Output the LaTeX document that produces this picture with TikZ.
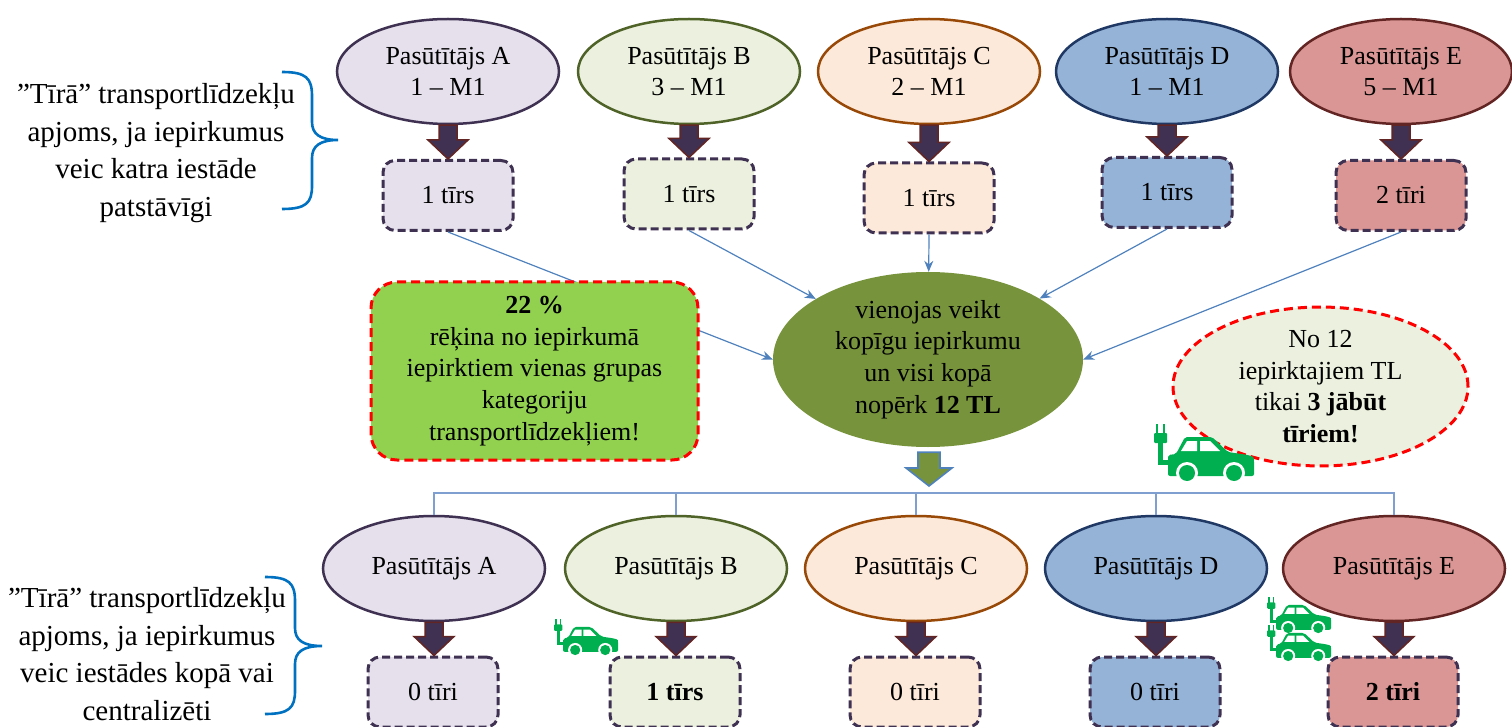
\documentclass[tikz,border=0pt]{standalone}
\usepackage{fontspec}
\setmainfont{Liberation Serif}
\usetikzlibrary{shapes.geometric,arrows.meta,calc,positioning}
\definecolor{lavA}{HTML}{E5E0EC}
\definecolor{linA}{HTML}{3F3151}
\definecolor{palB}{HTML}{EBF1DE}
\definecolor{linB}{HTML}{4F6228}
\definecolor{peaC}{HTML}{FDE9D9}
\definecolor{linC}{HTML}{984807}
\definecolor{bluD}{HTML}{95B3D7}
\definecolor{linD}{HTML}{1F3864}
\definecolor{rosE}{HTML}{D99694}
\definecolor{linE}{HTML}{632523}
\definecolor{olive}{HTML}{77933C}
\definecolor{lime}{HTML}{92D050}
\definecolor{carg}{HTML}{00B050}
\definecolor{brace}{HTML}{0070C0}
\definecolor{link}{HTML}{4F81BD}
\definecolor{busl}{HTML}{7F9FD0}
\definecolor{arrf}{HTML}{403152}

\tikzset{
  ecar/.pic={
    \fill[carg,rounded corners=2pt] (0,-3) -- (0,18) -- (8,19) -- (17,36) -- (44,36) -- (60,21) -- (80,18) .. controls (86,16) .. (86,8) -- (86,-3) -- cycle;
    \fill[white] (13,22) -- (19,32) -- (29,32) -- (29,22) -- cycle;
    \fill[white] (32,22) -- (32,32) -- (42,32) -- (52,22) -- cycle;
    \fill[white] (19,0) circle (11);
    \fill[carg] (19,0) circle (8);
    \fill[white] (66,0) circle (11);
    \fill[carg] (66,0) circle (8);
    \fill[carg] (-10,8) rectangle (1,13);
    \fill[carg] (-10,8) rectangle (-5,32);
    \fill[carg,rounded corners=1pt] (-14,30) rectangle (-1,40);
    \fill[carg] (-12,39) rectangle (-10,49);
    \fill[carg] (-5,39) rectangle (-3,49);
  }
}

\begin{document}
\begin{tikzpicture}[x=1pt,y=1pt,
  txt/.style={font=\fontsize{26}{31.6}\selectfont,align=center},
  side/.style={font=\fontsize{29}{37.7}\selectfont,align=center},
  buyer/.style={txt,ellipse,minimum width=222pt,minimum height=105pt,inner sep=0pt,line width=2.5pt},
  count/.style={txt,rectangle,rounded corners=12pt,minimum width=130pt,minimum height=70pt,
    draw=linA,line width=3pt,dash pattern=on 8pt off 4pt},
  redline/.style={draw=red,line width=3pt,dash pattern=on 9pt off 5pt},
  fat/.style={fill=arrf,draw=linE,line width=1.5pt,
    to path={let \p1=(\tikztostart.south), \p2=(\tikztotarget.north) in
      (\x1-9,\y1) -- (\x1-9,\y2+19) -- (\x1-20,\y2+19) -- (\x1,\y2)
      -- (\x1+20,\y2+19) -- (\x1+9,\y2+19) -- (\x1+9,\y1) -- cycle}},
  feed/.style={draw=link,line width=1.2pt,-{Stealth[length=11pt,width=9pt]}},
  bus/.style={draw=busl,line width=1.6pt},
  curly/.style={draw=brace,line width=2.6pt}]
\useasboundingbox (0,0) rectangle (1512,-727);

% each buyer on its own
\node[buyer,fill=lavA,draw=linA] (tA) at (448,-71.5) {Pasūtītājs A\\1 – M1};
\node[buyer,fill=palB,draw=linB] (tB) at (689,-71.5) {Pasūtītājs B\\3 – M1};
\node[buyer,fill=peaC,draw=linC] (tC) at (929,-71.5) {Pasūtītājs C\\2 – M1};
\node[buyer,fill=bluD,draw=linD] (tD) at (1167,-71.5) {Pasūtītājs D\\1 – M1};
\node[buyer,fill=rosE,draw=linE] (tE) at (1401,-71.5) {Pasūtītājs E\\5 – M1};

\node[count,fill=lavA] (nA) at (448,-195.5) {1 tīrs};
\node[count,fill=palB] (nB) at (689,-194) {1 tīrs};
\node[count,fill=peaC] (nC) at (929,-198) {1 tīrs};
\node[count,fill=bluD] (nD) at (1167,-192.5) {1 tīrs};
\node[count,fill=rosE] (nE) at (1401,-195.5) {2 tīri};

\draw[fat] (tA) to (nA);
\draw[fat] (tB) to (nB);
\draw[fat] (tC) to (nC);
\draw[fat] (tD) to (nD);
\draw[fat] (tE) to (nE);

\node[side] (why1) at (156,-153) {”Tīrā” transportlīdzekļu\\apjoms, ja iepirkumus\\veic katra iestāde\\patstāvīgi};
\draw[curly] (282,-72) .. controls (306,-72) and (312,-78) .. (312,-96) -- (312,-122)
  .. controls (312,-134) and (320,-140) .. (338,-140)
  .. controls (320,-140) and (312,-146) .. (312,-158) -- (312,-186)
  .. controls (312,-203) and (306,-209) .. (282,-209);

% joint purchase
\node[txt,ellipse,fill=olive,minimum width=310pt,minimum height=175pt,inner sep=0pt] (mid) at (928,-359.5)
  {vienojas veikt\\kopīgu iepirkumu\\un visi kopā\\nopērk \textbf{12 TL}};

\draw[feed] (nA.south) -- (mid.west);
\draw[feed] (nB.south) -- (mid);
\draw[feed] (nC.south) -- (mid);
\draw[feed] (nD.south) -- (mid);
\draw[feed] (nE.south) -- (mid.east);

\node[txt,rectangle,rounded corners=26pt,fill=lime,redline,minimum width=327pt,minimum height=178pt] (rule) at (534.5,-371)
  {\textbf{22 \%}\\rēķina no iepirkumā\\iepirktiem vienas grupas\\kategoriju\\transportlīdzekļiem!};

\node[txt,ellipse,fill=palB,redline,minimum width=295pt,minimum height=129pt,inner sep=0pt] (note) at (1320.5,-386.5)
  {No 12\\iepirktajiem TL\\tikai \textbf{3 jābūt}\\\textbf{tīriem!}};

\pic (bigcar) at (1168,-473) {ecar};

\coordinate (busC) at (929,-486);
\coordinate (bus) at (0,-493);
\draw[fill=olive,draw=link,line width=1.6pt] let \p1=(mid.south), \p2=(busC) in
  (\x1-10,\y1-5) -- (\x1-10,\y2+18) -- (\x1-22,\y2+18) -- (\x1+1,\y2)
  -- (\x1+24,\y2+18) -- (\x1+12,\y2+18) -- (\x1+12,\y1-5) -- cycle;

% together
\node[buyer,fill=lavA,draw=linA] (bA) at (434,-568.5) {Pasūtītājs A};
\node[buyer,fill=palB,draw=linB] (bB) at (676,-568.5) {Pasūtītājs B};
\node[buyer,fill=peaC,draw=linC] (bC) at (916,-568.5) {Pasūtītājs C};
\node[buyer,fill=bluD,draw=linD] (bD) at (1156,-568.5) {Pasūtītājs D};
\node[buyer,fill=rosE,draw=linE] (bE) at (1394,-568.5) {Pasūtītājs E};

\draw[bus] (bA.north) -- (bA.north |- bus) -- (bE.north |- bus) -- (bE.north);
\draw[bus] (bB.north) -- (bB.north |- bus);
\draw[bus] (bC.north) -- (bC.north |- bus);
\draw[bus] (bD.north) -- (bD.north |- bus);

\node[count,fill=lavA] (rA) at (433,-692) {0 tīri};
\node[count,fill=palB] (rB) at (675,-692) {\textbf{1 tīrs}};
\node[count,fill=peaC] (rC) at (915,-692) {0 tīri};
\node[count,fill=bluD] (rD) at (1155,-692) {0 tīri};
\node[count,fill=rosE] (rE) at (1393,-692) {\textbf{2 tīri}};

\draw[fat] (bA) to (rA);
\draw[fat] (bB) to (rB);
\draw[fat] (bC) to (rC);
\draw[fat] (bD) to (rD);
\draw[fat] (bE) to (rE);

\pic[scale=0.64] (carB) at (563,-650) {ecar};
\pic[scale=0.64] (carE1) at (1276,-628) {ecar};
\pic[scale=0.64] (carE2) at (1276,-656) {ecar};

\node[side] (why2) at (147,-654) {”Tīrā” transportlīdzekļu\\apjoms, ja iepirkumus\\veic iestādes kopā vai\\centralizēti};
\draw[curly] (265,-577) .. controls (289,-577) and (295,-583) .. (295,-601) -- (295,-628)
  .. controls (295,-640) and (303,-646) .. (322,-646)
  .. controls (303,-646) and (295,-652) .. (295,-664) -- (295,-691)
  .. controls (295,-708) and (289,-714) .. (265,-714);
\end{tikzpicture}
\end{document}
